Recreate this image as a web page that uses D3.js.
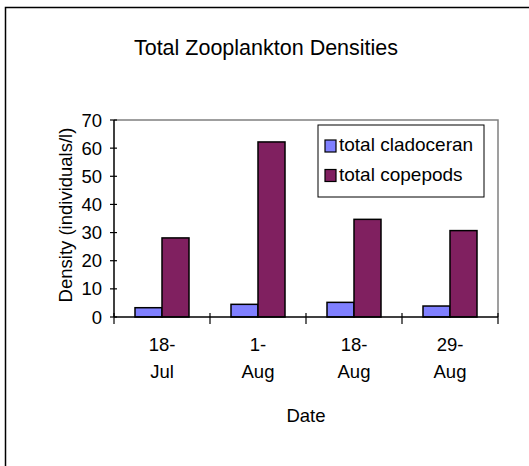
<!DOCTYPE html>
<html>
<head>
<meta charset="utf-8">
<script src="https://cdn.jsdelivr.net/npm/d3@7"></script>
<style>
  body { margin: 0; background: #fff; overflow: hidden; }
  svg { display: block; }
  svg text { font-family: "Liberation Sans", Arial, sans-serif; fill: #000; }
</style>
</head>
<body>
<div id="chart"></div>
<script>
// Data
const dates = ["18-Jul", "1-Aug", "18-Aug", "29-Aug"];
const dateLines = [["18-", "Jul"], ["1-", "Aug"], ["18-", "Aug"], ["29-", "Aug"]];
const seriesNames = ["total cladoceran", "total copepods"];
const cladoceran = [3.3, 4.5, 5.2, 3.9];
const copepods = [28.1, 62.2, 34.7, 30.7];
const yTicks = [0, 10, 20, 30, 40, 50, 60, 70];
const colors = ["#8080ff", "#802060"];

const width = 529, height = 466;
const plot = { left: 114, right: 498, top: 120, bottom: 317 };

const svg = d3.select("#chart").append("svg")
  .attr("width", width)
  .attr("height", height);

// outer frame: only the top and left edges show in the picture
svg.append("path")
  .attr("d", `M5.5,${height}V7.5H${width}`)
  .attr("fill", "none").attr("stroke", "#000").attr("stroke-width", 1.5);

const xScale = d3.scaleBand()
  .domain(dates)
  .range([plot.left, plot.right]);

const xInner = d3.scaleBand()
  .domain(seriesNames)
  .range([21, 75]);

const yScale = d3.scaleLinear()
  .domain([0, 70])
  .range([plot.bottom, plot.top]);

// plot area top/right border in grey
svg.append("path")
  .attr("d", `M${plot.left},${plot.top}H${plot.right}V${plot.bottom}`)
  .attr("fill", "none").attr("stroke", "#808080").attr("stroke-width", 1.5);

// bars
const rows = dates.map((d, i) => ({ date: d, values: [cladoceran[i], copepods[i]] }));
const groups = svg.selectAll("g.group")
  .data(rows)
  .enter().append("g")
    .attr("class", "group")
    .attr("transform", d => `translate(${xScale(d.date)},0)`);

groups.selectAll("rect")
  .data(d => d.values.map((v, j) => ({ name: seriesNames[j], value: v, j })))
  .enter().append("rect")
    .attr("x", d => xInner(d.name))
    .attr("width", xInner.bandwidth())
    .attr("y", d => yScale(d.value))
    .attr("height", d => yScale(0) - yScale(d.value))
    .attr("fill", d => colors[d.j])
    .attr("stroke", "#000")
    .attr("stroke-width", 1.5);

// Y axis
svg.append("line")
  .attr("x1", plot.left).attr("x2", plot.left)
  .attr("y1", plot.top).attr("y2", plot.bottom)
  .attr("stroke", "#000").attr("stroke-width", 1.5);

svg.selectAll(".ytick")
  .data(yTicks)
  .enter().append("line")
    .attr("class", "ytick")
    .attr("x1", plot.left - 4).attr("x2", plot.left + 3)
    .attr("y1", d => yScale(d)).attr("y2", d => yScale(d))
    .attr("stroke", "#000").attr("stroke-width", 1.2);

svg.selectAll(".ylabel")
  .data(yTicks)
  .enter().append("text")
    .attr("class", "ylabel")
    .attr("x", 102)
    .attr("y", d => yScale(d) + 6.5)
    .attr("text-anchor", "end")
    .style("font-size", "18.5px")
    .text(d => d);

// X axis
svg.append("line")
  .attr("x1", plot.left).attr("x2", plot.right)
  .attr("y1", plot.bottom).attr("y2", plot.bottom)
  .attr("stroke", "#000").attr("stroke-width", 1.5);

const xEdges = dates.map(d => xScale(d)).concat([plot.right]);
svg.selectAll(".xtick")
  .data(xEdges)
  .enter().append("line")
    .attr("class", "xtick")
    .attr("x1", d => d).attr("x2", d => d)
    .attr("y1", plot.bottom - 4).attr("y2", plot.bottom + 7)
    .attr("stroke", "#000").attr("stroke-width", 1.2);

const xLabels = svg.selectAll(".xlabel")
  .data(dates)
  .enter().append("text")
    .attr("class", "xlabel")
    .attr("text-anchor", "middle")
    .style("font-size", "18.5px");

xLabels.selectAll("tspan")
  .data((d, i) => dateLines[i].map(t => ({ t, x: xScale(d) + xScale.bandwidth() / 2 })))
  .enter().append("tspan")
    .attr("x", d => d.x)
    .attr("y", (d, k) => 351 + k * 26.5)
    .text(d => d.t);

// titles
svg.append("text")
  .attr("x", 266).attr("y", 55)
  .attr("text-anchor", "middle")
  .style("font-size", "21.5px")
  .text("Total Zooplankton Densities");

svg.append("text")
  .attr("transform", "translate(72,215) rotate(-90)")
  .attr("text-anchor", "middle")
  .style("font-size", "18.5px")
  .text("Density (individuals/l)");

svg.append("text")
  .attr("x", 306).attr("y", 422)
  .attr("text-anchor", "middle")
  .style("font-size", "18.5px")
  .text("Date");

// legend
const legend = svg.append("g").attr("transform", "translate(318,125)");
legend.append("rect")
  .attr("width", 166).attr("height", 72)
  .attr("fill", "#fff").attr("stroke", "#000").attr("stroke-width", 1);

const items = legend.selectAll("g.item")
  .data(seriesNames)
  .enter().append("g")
    .attr("class", "item")
    .attr("transform", (d, i) => `translate(7,${15 + i * 29.5})`);

items.append("rect")
  .attr("width", 11).attr("height", 12)
  .attr("fill", (d, i) => colors[i])
  .attr("stroke", "#000").attr("stroke-width", 1.2);

items.append("text")
  .attr("x", 14).attr("y", 11)
  .style("font-size", "19px")
  .text(d => d);
</script>
</body>
</html>
